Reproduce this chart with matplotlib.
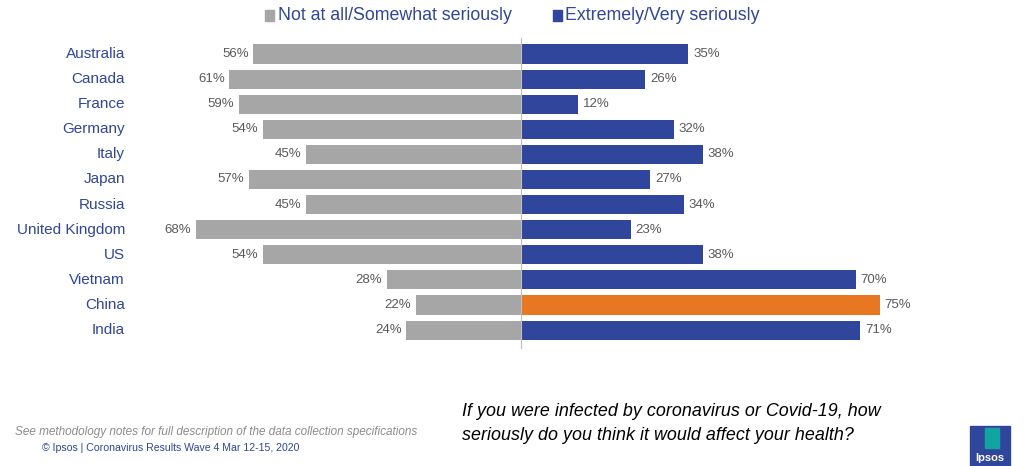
import matplotlib.pyplot as plt
from matplotlib.patches import Rectangle

countries = ['Australia', 'Canada', 'France', 'Germany', 'Italy', 'Japan', 'Russia',
             'United Kingdom', 'US', 'Vietnam', 'China', 'India']
not_serious = [56, 61, 59, 54, 45, 57, 45, 68, 54, 28, 22, 24]
very_serious = [35, 26, 12, 32, 38, 27, 34, 23, 38, 70, 75, 71]
highlight = 'China'

GRAY = '#A6A6A6'
BLUE = '#2F469C'
ORANGE = '#E87722'
LABEL = '#595959'

plt.rcParams['font.family'] = ['Liberation Sans', 'DejaVu Sans']

fig = plt.figure(figsize=(10.24, 4.66), dpi=100)
W, H = 1024, 466

# axes placed in pixel terms: center of the diverging bars at x=521
px_per = 4.78
ax_l, ax_r = 150, 950
ax_t, ax_b = 30, 360
ax = fig.add_axes([ax_l / W, 1 - ax_b / H, (ax_r - ax_l) / W, (ax_b - ax_t) / H])
ax.set_xlim(-(521 - ax_l) / px_per, (ax_r - 521) / px_per)
ax.set_ylim((ax_b - 54) / 25.1, (ax_t - 54) / 25.1)
ax.axis('off')

ys = list(range(len(countries)))
ax.barh(ys, [-v for v in not_serious], height=0.76, color=GRAY)
cols = [ORANGE if c == highlight else BLUE for c in countries]
ax.barh(ys, very_serious, height=0.76, color=cols)
ax.plot([0, 0], [-0.65, 11.7], color='#BFBFBF', lw=0.8)

for y, c, a, b in zip(ys, countries, not_serious, very_serious):
    ax.text(-a - 1.0, y, f'{a}%', ha='right', va='center', fontsize=9.5, color=LABEL)
    ax.text(b + 1.0, y, f'{b}%', ha='left', va='center', fontsize=9.5, color=LABEL)
    fig.text(125 / W, 1 - (54 + 25.1 * y) / H, c, ha='right', va='center',
             fontsize=11, color=BLUE)

# legend
fig.patches.append(Rectangle((265 / W, 1 - 21 / H), 9 / W, 11 / H, color=GRAY,
                             transform=fig.transFigure))
fig.text(278 / W, 1 - 15 / H, 'Not at all/Somewhat seriously', ha='left', va='center',
         fontsize=12.8, color=BLUE)
fig.patches.append(Rectangle((553 / W, 1 - 21 / H), 9 / W, 11 / H, color=BLUE,
                             transform=fig.transFigure))
fig.text(565 / W, 1 - 15 / H, 'Extremely/Very seriously', ha='left', va='center',
         fontsize=12.8, color=BLUE)

# question
fig.text(462 / W, 1 - 412 / H, 'If you were infected by coronavirus or Covid-19, how',
         ha='left', va='center', fontsize=12.9, style='italic', color='black')
fig.text(462 / W, 1 - 436 / H, 'seriously do you think it would affect your health?',
         ha='left', va='center', fontsize=12.9, style='italic', color='black')

# footnotes
fig.text(15 / W, 1 - 432 / H,
         'See methodology notes for full description of the data collection specifications',
         ha='left', va='center', fontsize=8.5, style='italic', color='#8C8C8C')
fig.text(42 / W, 1 - 448 / H, '© Ipsos | Coronavirus Results Wave 4 Mar 12-15, 2020',
         ha='left', va='center', fontsize=7.6, color=BLUE)

# logo
fig.patches.append(Rectangle((970 / W, 0), 40 / W, 40 / H, color='#2F469C',
                             transform=fig.transFigure))
fig.patches.append(Rectangle((985 / W, 18 / H), 14 / W, 20 / H, color='#12A4A0',
                             transform=fig.transFigure))
fig.text(990 / W, 8 / H, 'Ipsos', ha='center', va='center', fontsize=8,
         color='white', fontweight='bold')

fig.savefig('out.png', dpi=100, facecolor='white')
